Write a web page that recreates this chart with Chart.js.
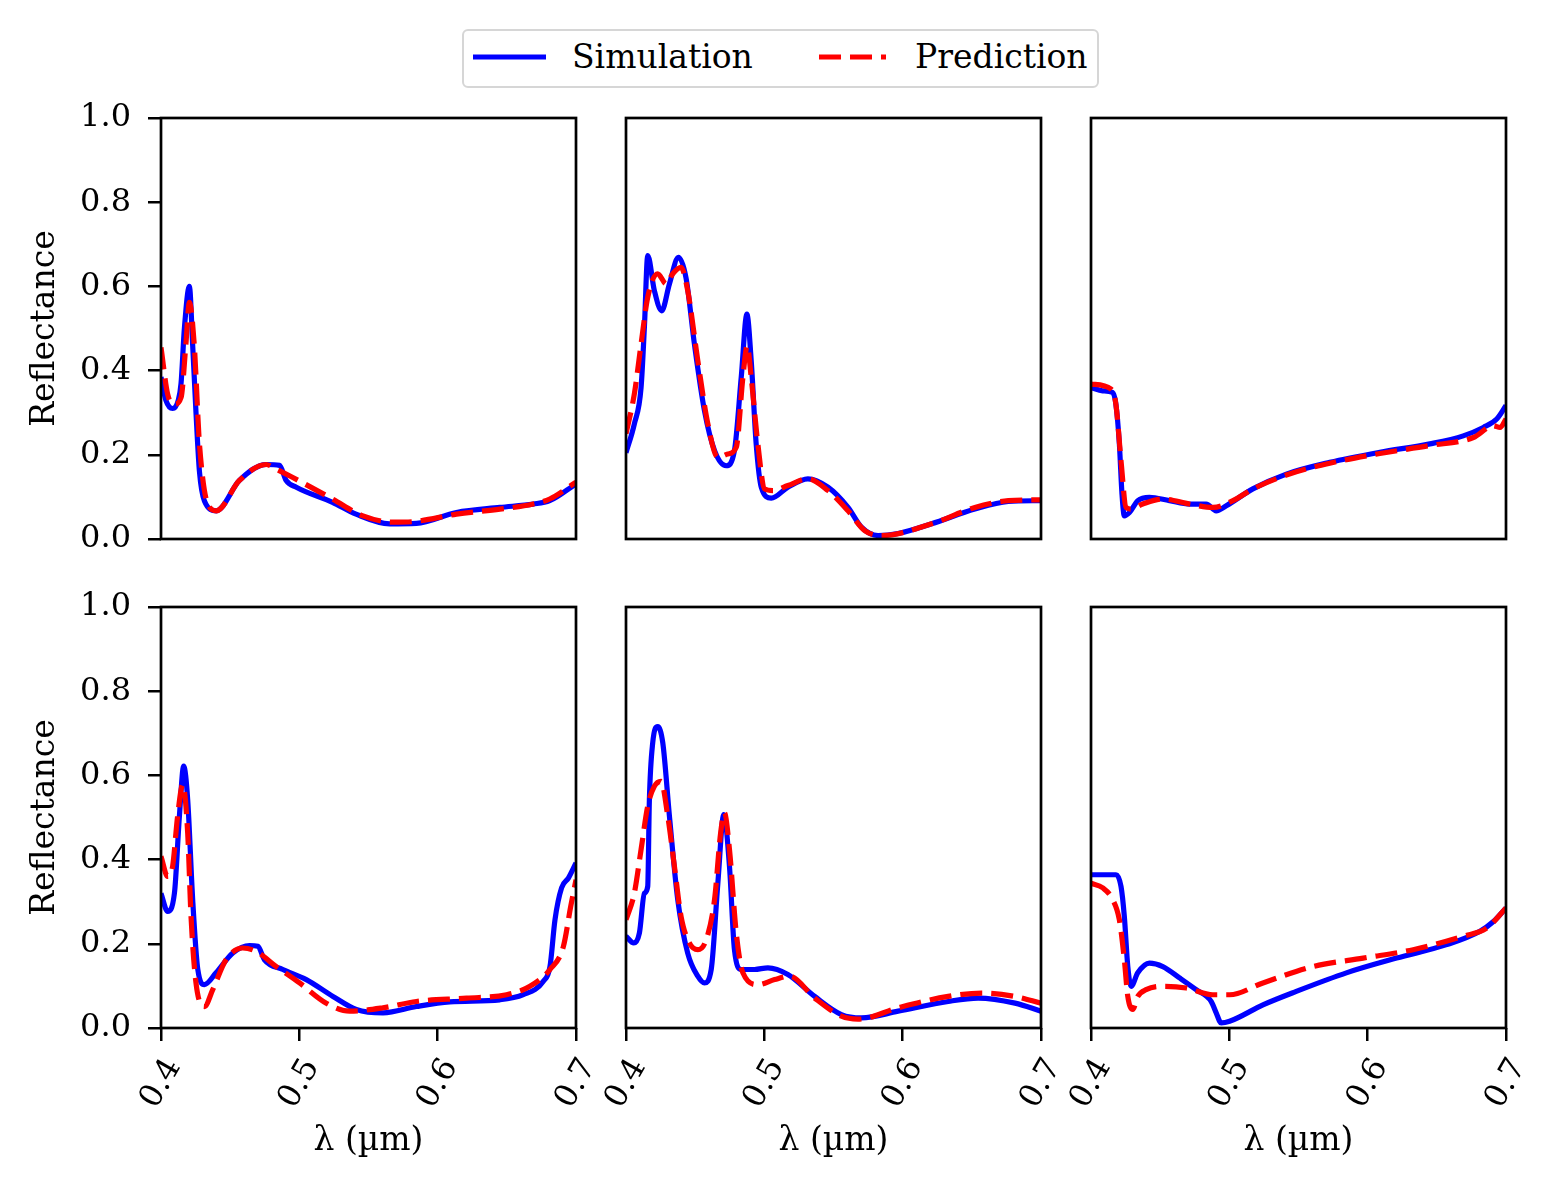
<!DOCTYPE html>
<html>
<head>
<meta charset="utf-8">
<script src="https://cdn.jsdelivr.net/npm/chart.js@4"></script>
<style>
  body { margin: 0; background: #fff; width: 1563px; height: 1188px; position: relative; overflow: hidden; font-family: 'DejaVu Serif', serif; }
  canvas { position: absolute; }
  #legend { position: absolute; left: 462px; top: 29px; width: 637px; height: 59px; box-sizing: border-box;
            border: 2.5px solid #d6d6d6; border-radius: 6px; background: #fff; }
  #legend svg { position: absolute; left: 0; top: 0; }
  .lab { position: absolute; font-size: 33px; line-height: 33px; top: 9px; color: #000; }
</style>
</head>
<body>
<div id="legend">
  <svg width="637" height="59">
    <line x1="9" y1="26" x2="82" y2="26" stroke="#0000ff" stroke-width="5"/>
    <line x1="355" y1="26" x2="422" y2="26" stroke="#ff0000" stroke-width="5" stroke-dasharray="22 9"/>
  </svg>
  <span class="lab" style="left:108px">Simulation</span>
  <span class="lab" style="left:451px">Prediction</span>
</div>
<canvas id="c1"></canvas>
<canvas id="c2"></canvas>
<canvas id="c3"></canvas>
<canvas id="c4"></canvas>
<canvas id="c5"></canvas>
<canvas id="c6"></canvas>
<script>
// wavelength (um) / reflectance, one pair of arrays per curve
const p1SimX = [0.400, 0.4035, 0.4084, 0.4125, 0.4145, 0.4169, 0.4205, 0.4229, 0.4253, 0.4278, 0.4314, 0.440, 0.4567, 0.476, 0.4857, 0.4905, 0.4978, 0.524, 0.541, 0.5653, 0.5846, 0.6136, 0.645, 0.669, 0.681, 0.700];
const p1SimY = [0.385, 0.33, 0.31, 0.33, 0.37, 0.50, 0.60, 0.46, 0.30, 0.16, 0.09, 0.067, 0.139, 0.177, 0.175, 0.139, 0.123, 0.087, 0.059, 0.036, 0.037, 0.063, 0.075, 0.083, 0.091, 0.131];
const p1PredX = [0.400, 0.4048, 0.4097, 0.4145, 0.418, 0.4205, 0.424, 0.4278, 0.4338, 0.440, 0.4567, 0.476, 0.4833, 0.4953, 0.524, 0.546, 0.5677, 0.5846, 0.6136, 0.645, 0.669, 0.681, 0.700];
const p1PredY = [0.455, 0.344, 0.32, 0.336, 0.463, 0.562, 0.463, 0.226, 0.083, 0.067, 0.139, 0.177, 0.166, 0.146, 0.095, 0.055, 0.040, 0.042, 0.059, 0.071, 0.083, 0.095, 0.135];

const p2SimX = [0.400, 0.406, 0.4109, 0.4133, 0.4157, 0.4205, 0.4258, 0.4314, 0.4379, 0.4434, 0.4495, 0.4567, 0.464, 0.4724, 0.4784, 0.4833, 0.4874, 0.4905, 0.4941, 0.4978, 0.505, 0.517, 0.5315, 0.546, 0.5605, 0.5702, 0.5822, 0.5967, 0.6209, 0.6522, 0.6764, 0.700];
const p2SimY = [0.205, 0.273, 0.36, 0.503, 0.673, 0.59, 0.542, 0.606, 0.669, 0.62, 0.462, 0.305, 0.21, 0.174, 0.21, 0.384, 0.534, 0.424, 0.226, 0.123, 0.097, 0.123, 0.143, 0.123, 0.075, 0.028, 0.008, 0.013, 0.036, 0.071, 0.089, 0.091];
const p2PredX = [0.400, 0.406, 0.4109, 0.4157, 0.4229, 0.429, 0.4338, 0.4398, 0.4446, 0.4519, 0.4592, 0.4664, 0.4736, 0.4797, 0.4845, 0.4876, 0.4905, 0.4953, 0.5002, 0.5062, 0.517, 0.5315, 0.546, 0.5605, 0.5726, 0.5846, 0.6209, 0.6522, 0.6764, 0.700];
const p2PredY = [0.25, 0.344, 0.463, 0.574, 0.63, 0.606, 0.63, 0.645, 0.59, 0.424, 0.273, 0.194, 0.202, 0.218, 0.384, 0.459, 0.384, 0.226, 0.119, 0.115, 0.127, 0.143, 0.115, 0.067, 0.02, 0.008, 0.036, 0.075, 0.091, 0.093];

const p3SimX = [0.400, 0.4084, 0.4157, 0.418, 0.4205, 0.4224, 0.4241, 0.4278, 0.4338, 0.4422, 0.4567, 0.4712, 0.4833, 0.4905, 0.4978, 0.517, 0.5412, 0.5726, 0.6088, 0.645, 0.6691, 0.6836, 0.6933, 0.700];
const p3SimY = [0.36, 0.352, 0.348, 0.32, 0.226, 0.107, 0.055, 0.063, 0.091, 0.099, 0.091, 0.083, 0.083, 0.067, 0.079, 0.119, 0.154, 0.182, 0.206, 0.226, 0.245, 0.265, 0.285, 0.317];
const p3PredX = [0.400, 0.4145, 0.418, 0.4217, 0.4253, 0.429, 0.4374, 0.4519, 0.4712, 0.4881, 0.5026, 0.517, 0.5412, 0.5726, 0.6088, 0.645, 0.6764, 0.6909, 0.6957, 0.700];
const p3PredY = [0.368, 0.356, 0.32, 0.186, 0.075, 0.071, 0.083, 0.095, 0.083, 0.075, 0.091, 0.119, 0.152, 0.180, 0.203, 0.222, 0.241, 0.269, 0.265, 0.285];

const p4SimX = [0.400, 0.4048, 0.4097, 0.4133, 0.4164, 0.4193, 0.4229, 0.4266, 0.4314, 0.4398, 0.4519, 0.464, 0.470, 0.4748, 0.4881, 0.505, 0.5243, 0.5412, 0.5605, 0.5846, 0.6088, 0.645, 0.6619, 0.6764, 0.6812, 0.6848, 0.6896, 0.6945, 0.700];
const p4SimY = [0.32, 0.277, 0.32, 0.503, 0.622, 0.542, 0.305, 0.139, 0.103, 0.131, 0.178, 0.196, 0.194, 0.162, 0.139, 0.115, 0.075, 0.044, 0.036, 0.051, 0.062, 0.067, 0.079, 0.111, 0.146, 0.257, 0.333, 0.356, 0.392];
const p4PredX = [0.400, 0.4048, 0.4084, 0.412, 0.4157, 0.4193, 0.4217, 0.4253, 0.4314, 0.4374, 0.447, 0.459, 0.4688, 0.4833, 0.5002, 0.5195, 0.5364, 0.5605, 0.5846, 0.6209, 0.6498, 0.6667, 0.6812, 0.6909, 0.6962, 0.700];
const p4PredY = [0.408, 0.36, 0.384, 0.503, 0.578, 0.463, 0.265, 0.107, 0.051, 0.091, 0.162, 0.19, 0.182, 0.146, 0.107, 0.059, 0.04, 0.048, 0.063, 0.071, 0.079, 0.099, 0.139, 0.194, 0.289, 0.352];

const p5SimX = [0.400, 0.4056, 0.4097, 0.4133, 0.4157, 0.4169, 0.4193, 0.4229, 0.4266, 0.4314, 0.4374, 0.4446, 0.4519, 0.4567, 0.4616, 0.4664, 0.4707, 0.4748, 0.4784, 0.4833, 0.4929, 0.5026, 0.517, 0.5364, 0.5557, 0.5702, 0.5967, 0.6329, 0.6546, 0.6812, 0.700];
const p5SimY = [0.218, 0.202, 0.226, 0.32, 0.336, 0.542, 0.677, 0.716, 0.677, 0.503, 0.305, 0.178, 0.123, 0.107, 0.139, 0.344, 0.507, 0.384, 0.186, 0.139, 0.139, 0.143, 0.127, 0.075, 0.032, 0.024, 0.040, 0.063, 0.071, 0.059, 0.04];
const p5PredX = [0.400, 0.406, 0.4109, 0.4157, 0.4205, 0.4253, 0.4302, 0.435, 0.4398, 0.4458, 0.4519, 0.458, 0.464, 0.4684, 0.4712, 0.4748, 0.4797, 0.4845, 0.4953, 0.5074, 0.5183, 0.5364, 0.5557, 0.5677, 0.5967, 0.6329, 0.657, 0.6812, 0.700];
const p5PredY = [0.257, 0.32, 0.424, 0.527, 0.574, 0.586, 0.503, 0.384, 0.265, 0.202, 0.186, 0.21, 0.305, 0.463, 0.511, 0.424, 0.226, 0.131, 0.103, 0.115, 0.123, 0.071, 0.028, 0.021, 0.048, 0.075, 0.083, 0.075, 0.059];

const p6SimX = [0.400, 0.4109, 0.4181, 0.4217, 0.4241, 0.4266, 0.429, 0.4338, 0.4422, 0.4519, 0.464, 0.476, 0.4869, 0.4905, 0.4941, 0.5002, 0.5243, 0.5484, 0.5846, 0.6209, 0.6571, 0.6812, 0.6909, 0.700];
const p6SimY = [0.364, 0.364, 0.364, 0.336, 0.265, 0.146, 0.099, 0.131, 0.154, 0.146, 0.119, 0.091, 0.063, 0.036, 0.012, 0.016, 0.055, 0.087, 0.131, 0.166, 0.198, 0.23, 0.253, 0.285];
const p6PredX = [0.400, 0.4084, 0.4157, 0.4205, 0.4241, 0.4266, 0.4302, 0.4338, 0.4398, 0.4519, 0.4688, 0.4881, 0.5002, 0.5243, 0.5605, 0.5967, 0.6329, 0.6691, 0.686, 0.700];
const p6PredY = [0.344, 0.333, 0.305, 0.257, 0.162, 0.075, 0.044, 0.075, 0.091, 0.099, 0.095, 0.079, 0.079, 0.107, 0.146, 0.166, 0.186, 0.218, 0.237, 0.285];

const yTicks = [0, 0.2, 0.4, 0.6, 0.8, 1.0];
const xTicks = [0.4, 0.5, 0.6, 0.7];

Chart.defaults.font.family = "'DejaVu Serif', serif";
Chart.defaults.color = '#000';
Chart.defaults.animation = false;

// matplotlib-like box round each axes
const framePlugin = {
  id: 'frame',
  afterDatasetsDraw(chart) {
    const a = chart.chartArea;
    const ctx = chart.ctx;
    ctx.save();
    ctx.strokeStyle = '#000';
    ctx.lineWidth = 2.7;
    ctx.strokeRect(a.left, a.top, a.right - a.left, a.bottom - a.top);
    ctx.restore();
  }
};

function pts(xs, ys) {
  return xs.map((x, i) => ({ x: x, y: ys[i] }));
}

const plotW = 415, plotH = 421, axisW = 161, padTop = 30, padRight = 20;

function makePanel(id, left, plotTop, simX, simY, predX, predY, showY, showX) {
  const bottomH = showX ? 160 : 20;
  const cv = document.getElementById(id);
  const w = axisW + plotW + padRight;
  const h = padTop + plotH + bottomH;
  cv.style.left = left + 'px';
  cv.style.top = (plotTop - padTop) + 'px';
  cv.style.width = w + 'px';
  cv.style.height = h + 'px';
  cv.width = w;
  cv.height = h;

  new Chart(cv.getContext('2d'), {
    type: 'line',
    data: {
      datasets: [
        { label: 'Simulation', data: pts(simX, simY), borderColor: '#0000ff', borderWidth: 5.2,
          pointRadius: 0, cubicInterpolationMode: 'monotone', order: 2 },
        { label: 'Prediction', data: pts(predX, predY), borderColor: '#ff0000', borderWidth: 5.2,
          borderDash: [22, 9], pointRadius: 0, cubicInterpolationMode: 'monotone', order: 1 }
      ]
    },
    options: {
      responsive: false,
      maintainAspectRatio: false,
      layout: { padding: { top: padTop, right: padRight, left: 0, bottom: 0 } },
      plugins: { legend: { display: false }, tooltip: { enabled: false } },
      scales: {
        x: {
          type: 'linear', min: 0.4, max: 0.7,
          afterFit: s => { s.height = bottomH; s.paddingLeft = 0; s.paddingRight = 0; },
          afterBuildTicks: s => { s.ticks = xTicks.map(v => ({ value: v })); },
          border: { display: false },
          grid: { display: showX, drawOnChartArea: false, drawTicks: true, tickLength: 13, color: '#000', lineWidth: 2.5 },
          ticks: { display: showX, autoSkip: false, minRotation: 60, maxRotation: 60, padding: 11, labelOffset: 13,
                   font: { size: 32 }, callback: v => v.toFixed(1) },
          title: { display: showX, text: 'λ (µm)', font: { size: 33 }, padding: { top: 0, bottom: 27 } }
        },
        y: {
          min: 0, max: 1,
          afterFit: s => { s.width = axisW; s.paddingTop = 0; s.paddingBottom = 0; },
          afterBuildTicks: s => { s.ticks = yTicks.map(v => ({ value: v })); },
          border: { display: false },
          grid: { display: showY, drawOnChartArea: false, drawTicks: true, tickLength: 13, color: '#000', lineWidth: 2.5 },
          ticks: { display: showY, padding: 17, font: { size: 32 }, callback: v => v.toFixed(1) },
          title: { display: showY, text: 'Reflectance', font: { size: 33 }, padding: { top: 26, bottom: 0 } }
        }
      }
    },
    plugins: [framePlugin]
  });
}

makePanel('c1', 0, 118, p1SimX, p1SimY, p1PredX, p1PredY, true, false);
makePanel('c2', 465, 118, p2SimX, p2SimY, p2PredX, p2PredY, false, false);
makePanel('c3', 930, 118, p3SimX, p3SimY, p3PredX, p3PredY, false, false);
makePanel('c4', 0, 607, p4SimX, p4SimY, p4PredX, p4PredY, true, true);
makePanel('c5', 465, 607, p5SimX, p5SimY, p5PredX, p5PredY, false, true);
makePanel('c6', 930, 607, p6SimX, p6SimY, p6PredX, p6PredY, false, true);
</script>
</body>
</html>
